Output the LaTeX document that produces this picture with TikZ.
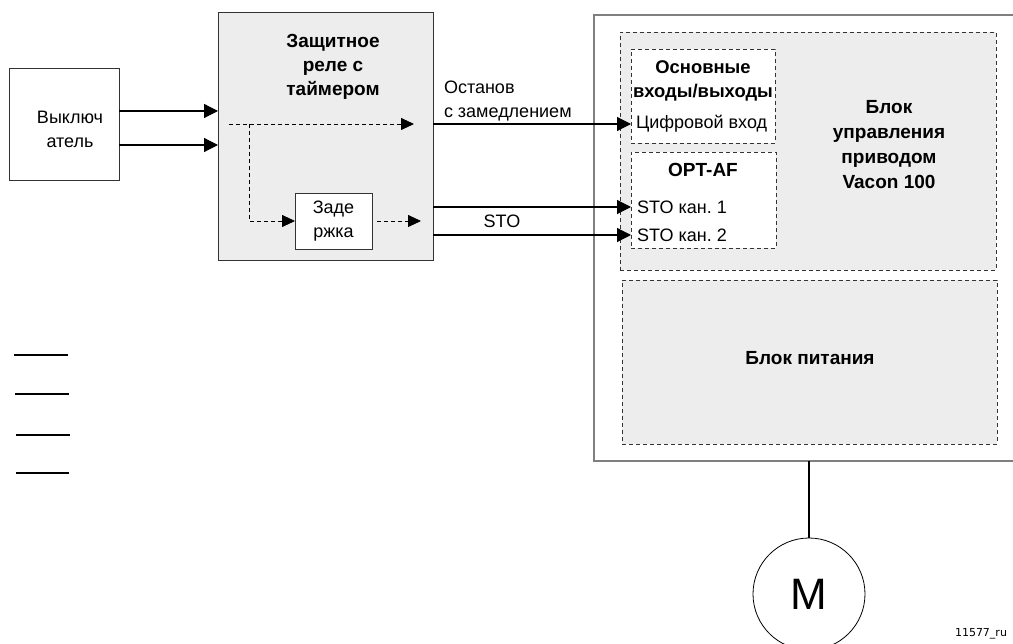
\documentclass[tikz,border=0pt]{standalone}
\usepackage{fontspec}
\setmainfont{Liberation Sans}
\newfontfamily\verd{DejaVu Sans}
\usetikzlibrary{arrows.meta}
\definecolor{boxgray}{HTML}{EDEDED}
\definecolor{edgegray}{HTML}{7F7F7F}
\frenchspacing
\begin{document}
\begin{tikzpicture}[x=1pt,y=-1pt,
  every node/.style={inner sep=0pt, outer sep=0pt},
  blk/.style={draw=black!80, line width=0.8pt, anchor=north west},
  dbox/.style={draw=black!80, dash pattern=on 4pt off 3pt, line width=0.8pt, anchor=north west},
  sig/.style={line width=1.2pt, -{Triangle[length=14pt,width=14pt]}},
  dsig/.style={line width=0.8pt, dash pattern=on 4pt off 3pt, -{Triangle[length=13pt,width=12pt]}},
  txt/.style={font=\fontsize{18}{24}\selectfont, align=center},
  btxt/.style={font=\bfseries\fontsize{19}{24}\selectfont, align=center},
  mark line/.style={line width=2pt},
]
\useasboundingbox (0,0) rectangle (1013,644);

% boxes
\node[blk, minimum width=110pt, minimum height=112pt] (sw) at (9,68) {};
\node[blk, fill=boxgray, minimum width=215pt, minimum height=248pt] (relay) at (218,12) {};
\node[blk, fill=white, minimum width=77pt, minimum height=56pt] (delay) at (295,193) {};
\node[draw=edgegray, line width=1.5pt, anchor=north west, minimum width=430pt, minimum height=446pt] (drive) at (594,15) {};
\node[dbox, fill=boxgray, minimum width=376pt, minimum height=238pt] (ctrl) at (620,32) {};
\node[dbox, fill=white, minimum width=144pt, minimum height=94pt] (io) at (631,49) {};
\node[dbox, fill=white, minimum width=145pt, minimum height=96pt] (opt) at (631,152) {};
\node[dbox, fill=boxgray, minimum width=375pt, minimum height=164pt] (power) at (622,280) {};
\node[circle, draw, line width=0.8pt, minimum size=112pt] (motor) at (809,594) {};

% texts
\node[txt] (swt) at (70,129) {Выключ\\атель};
\node[btxt] (relt) at (333,67) {Защитное\\реле с\\таймером};
\node[txt] (delt) at (delay.center) {Заде\\ржка};
\node[txt, align=left, anchor=west] (stopt) at (444,101) {Останов\\с замедлением};
\node[txt] (stot) at (502,221) {STO};
\node[font=\bfseries\fontsize{18.4}{24}\selectfont, align=center] (iot) at (703,81) {Основные\\входы/выходы};
\node[txt, anchor=west] (dig) at (636,124) {Цифровой вход};
\node[btxt] (optt) at (703,170) {OPT-AF};
\node[txt, anchor=west] (sto1) at (637,207) {STO кан. 1};
\node[txt, anchor=west] (sto2) at (637,235) {STO кан. 2};
\node[font=\bfseries\fontsize{19}{25}\selectfont, align=center] (ctrlt) at (889,145) {Блок\\управления\\приводом\\Vacon 100};
\node[btxt] (powt) at (810,358) {Блок питания};
\node[font=\fontsize{44}{44}\selectfont] (mt) at (motor.center) {M};
\node[font=\verd\fontsize{11}{13}\selectfont] (code) at (981,634) {11577\_ru};

% coordinates
\coordinate (y1) at (0,111);
\coordinate (y2) at (0,145);
\coordinate (ds) at (229,124);
\coordinate (de) at (414,124);
\coordinate (br) at (249,124);
\coordinate (dout) at (421,221);
\coordinate (s1) at (0,207);
\coordinate (s2) at (0,235);

% connectors
\draw[sig] (sw.east |- y1) -- (relay.west |- y1);
\draw[sig] (sw.east |- y2) -- (relay.west |- y2);
\draw[dsig] (ds) -- (de);
\draw[dsig] (br) |- (delay.west);
\draw[dsig] ([xshift=5pt]delay.east) -- (dout);
\draw[sig] (relay.east |- de) -- (io.west |- de);
\draw[sig] (relay.east |- s1) -- (opt.west |- s1);
\draw[sig] (relay.east |- s2) -- (opt.west |- s2);
\draw[line width=2pt] (drive.south) -- (motor.north);

% short marks on the left
\draw[mark line] (14,355) -- (68,355);
\draw[mark line] (15,394) -- (69,394);
\draw[mark line] (16,435) -- (70,435);
\draw[mark line] (16,473) -- (69,473);
\end{tikzpicture}
\end{document}
